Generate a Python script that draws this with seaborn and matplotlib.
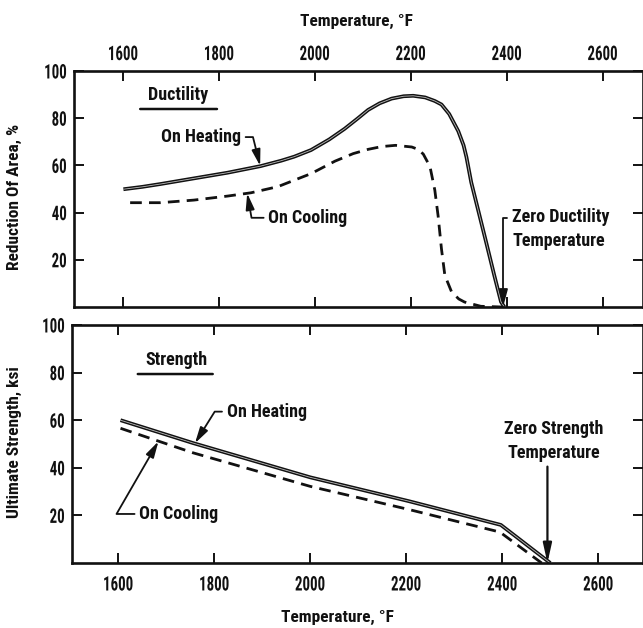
import numpy as np
import pandas as pd
import matplotlib
matplotlib.use("Agg")
import matplotlib.pyplot as plt
from matplotlib import font_manager as fm
from matplotlib.patheffects import AbstractPathEffect
from matplotlib.transforms import Affine2D
import seaborn as sns

# ---------------- data ----------------
temp_ticks = [1600, 1800, 2000, 2200, 2400, 2600]
value_ticks = [20, 40, 60, 80, 100]

duct_heat_T = [1601, 1640, 1678, 1748, 1818, 1887, 1930, 1957, 1992, 2030,
               2062, 2090, 2111, 2135, 2160, 2185, 2205, 2230, 2250, 2264,
               2280, 2299, 2310, 2316, 2326, 2340, 2357, 2374, 2388, 2395]
duct_heat = [49.9, 50.9, 52.1, 54.5, 56.9, 59.7, 62.0, 63.7, 66.5, 71.0,
             75.5, 80.0, 83.5, 86.3, 88.3, 89.3, 89.5, 88.8, 87.3, 85.8,
             81.8, 74.5, 68.5, 63.5, 52.8, 41.4, 27.5, 13.4, 2.2, 0.0]

duct_cool_T = [1615, 1678, 1748, 1818, 1867, 1923, 1973, 1992, 2042, 2080,
               2111, 2140, 2168, 2202, 2215, 2226, 2240, 2250, 2257, 2264,
               2271, 2285, 2300, 2312, 2346, 2390]
duct_cool = [44.2, 44.2, 45.3, 47.0, 48.4, 51.0, 55.0, 56.5, 61.8, 65.0,
             66.8, 68.0, 68.5, 67.8, 66.8, 64.8, 59.5, 49.6, 38.5, 24.5,
             13.4, 6.4, 3.4, 2.1, 0.3, 0.0]

str_heat_T = [1605, 1756, 2000, 2205, 2397, 2500]
str_heat = [60.0, 50.4, 36.0, 26.0, 16.0, 0.0]

str_cool_T = [1605, 1756, 2000, 2205, 2395, 2482]
str_cool = [56.6, 46.3, 32.2, 22.5, 13.0, 0.0]

duct_heat_df = pd.DataFrame({"T": duct_heat_T, "v": duct_heat})
duct_cool_df = pd.DataFrame({"T": duct_cool_T, "v": duct_cool})
str_heat_df = pd.DataFrame({"T": str_heat_T, "v": str_heat})
str_cool_df = pd.DataFrame({"T": str_cool_T, "v": str_cool})

# ---------------- style ----------------
sns.set_theme(style="ticks")

# pick a narrow bold face if one is installed
fonts = fm.fontManager.ttflist
narrow_family = None
narrow_stretch = "normal"
for fam in ["Liberation Sans Narrow", "DejaVu Sans Condensed",
            "Roboto Condensed", "Open Sans Condensed"]:
    if any(f.name == fam for f in fonts):
        narrow_family = fam
        break
if narrow_family is None:
    for f in fonts:
        if f.name == "DejaVu Sans" and f.stretch in ("condensed", "semi-condensed"):
            narrow_family = "DejaVu Sans"
            narrow_stretch = "condensed"
            break
if narrow_family is None:
    narrow_family = "Roboto"

plt.rcParams["font.family"] = [narrow_family, "DejaVu Sans"]
plt.rcParams["font.stretch"] = narrow_stretch
plt.rcParams["font.weight"] = "bold"
plt.rcParams["axes.labelweight"] = "bold"

INK = "#111111"
FS_TICK = 14.5
FS_TXT = 13.0
FS_LAB = 12.5


class Squeeze(AbstractPathEffect):
    """Draw text narrower (condensed look) while keeping it a text artist."""

    def __init__(self, sx=0.75, anchor="center"):
        super().__init__()
        self.sx = sx
        self.anchor = anchor

    def draw_path(self, renderer, gc, tpath, affine, rgbFace=None):
        ext = tpath.get_extents()
        if self.anchor == "left":
            px = ext.x0
        elif self.anchor == "right":
            px = ext.x1
        else:
            px = 0.5 * (ext.x0 + ext.x1)
        t = Affine2D().translate(-px, 0).scale(self.sx, 1).translate(px, 0) + affine
        renderer.draw_path(gc, tpath, t, rgbFace)


fig = plt.figure(figsize=(6.43, 6.28), dpi=100)
ax1 = fig.add_axes([74 / 643, 1 - 307 / 628, 569 / 643, 236 / 628])
ax2 = fig.add_axes([72 / 643, 1 - 563 / 628, 571 / 643, 238 / 628])


def style_axes(ax, xlim, labeltop):
    ax.set_xlim(*xlim)
    ax.set_ylim(0, 100)
    ax.set_xticks(temp_ticks)
    ax.set_yticks(value_ticks)
    ax.set_xticklabels([str(t) for t in temp_ticks])
    ax.set_yticklabels([str(v) for v in value_ticks])
    for s in ax.spines.values():
        s.set_linewidth(1.9)
        s.set_color(INK)
        s.set_visible(True)
    ax.tick_params(axis="both", direction="in", length=7.5, width=1.4,
                   color=INK, labelcolor=INK, labelsize=FS_TICK)
    ax.tick_params(axis="x", top=True, bottom=True,
                   labeltop=labeltop, labelbottom=not labeltop,
                   pad=5 if labeltop else 9)
    ax.tick_params(axis="y", left=True, right=True, labelleft=True,
                   labelright=False, pad=5)
    for tick in ax.xaxis.get_major_ticks():
        for lab in (tick.label1, tick.label2):
            lab.set_fontweight("bold")
            lab.set_path_effects([Squeeze(0.74, "center")])
    for tick in ax.yaxis.get_major_ticks():
        for lab in (tick.label1, tick.label2):
            lab.set_fontweight("bold")
            lab.set_path_effects([Squeeze(0.74, "right")])
    ax.set_facecolor("white")


def hollow_line(ax, df):
    sns.lineplot(data=df, x="T", y="v", ax=ax, color=INK, linewidth=2.7,
                 estimator=None, sort=False, solid_capstyle="butt")
    sns.lineplot(data=df, x="T", y="v", ax=ax, color="#bdbdbd", linewidth=0.6,
                 estimator=None, sort=False, solid_capstyle="butt")


def dashed_line(ax, df):
    sns.lineplot(data=df, x="T", y="v", ax=ax, color=INK, linewidth=2.0,
                 estimator=None, sort=False, linestyle=(0, (4.2, 2.6)))


def leader(ax, text, xy, xytext, angleB, relpos, ha="left", va="center",
           **kw):
    ax.annotate(text, xy=xy, xytext=xytext, textcoords="data",
                ha=ha, va=va, fontsize=FS_TXT, fontweight="bold", color=INK,
                arrowprops=dict(arrowstyle="-|>,head_length=0.75,head_width=0.2",
                                color=INK, lw=1.3, shrinkA=1, shrinkB=0,
                                relpos=relpos,
                                connectionstyle=f"angle,angleA=0,angleB={angleB},rad=0"),
                **kw)


def underline(ax, x0, x1, y):
    ax.annotate("", xy=(x1, y), xytext=(x0, y),
                arrowprops=dict(arrowstyle="-", color=INK, lw=1.8,
                                shrinkA=0, shrinkB=0))


# ---------------- top panel: ductility ----------------
hollow_line(ax1, duct_heat_df)
dashed_line(ax1, duct_cool_df)
style_axes(ax1, (1498, 2684), labeltop=True)
ax1.set_xlabel("Temperature, °F", fontsize=FS_LAB, fontweight="bold", color=INK)
ax1.xaxis.set_label_position("top")
ax1.xaxis.set_label_coords(0.497, 1.21)
ax1.xaxis.label.set_va("center")
ax1.set_ylabel("Reduction Of Area, %", fontsize=FS_LAB, fontweight="bold",
               color=INK)
ax1.yaxis.set_label_coords(-0.104, 0.466)
ax1.yaxis.label.set_va("center")

ax1.text(1715, 89.8, "Ductility", ha="center", va="center", fontsize=FS_TXT,
         fontweight="bold", color=INK)
underline(ax1, 1636, 1796, 83.9)

leader(ax1, "On Heating", xy=(1886, 59.8), xytext=(1846, 72.0),
       angleB=104, relpos=(1, 0.5), ha="right")
leader(ax1, "On Cooling", xy=(1859, 48.2), xytext=(1903, 37.8),
       angleB=100, relpos=(0, 0.5), ha="left")
leader(ax1, "Zero Ductility\nTemperature", xy=(2393, 0.4), xytext=(2411, 33.0),
       angleB=90, relpos=(0, 0.76), ha="left", multialignment="left",
       linespacing=1.4)

# ---------------- bottom panel: strength ----------------
hollow_line(ax2, str_heat_df)
dashed_line(ax2, str_cool_df)
style_axes(ax2, (1504, 2693), labeltop=False)
ax2.set_xlabel("Temperature, °F", fontsize=FS_LAB, fontweight="bold", color=INK)
ax2.xaxis.set_label_coords(0.464, -0.231)
ax2.xaxis.label.set_va("center")
ax2.set_ylabel("Ultimate Strength, ksi", fontsize=FS_LAB, fontweight="bold",
               color=INK)
ax2.yaxis.set_label_coords(-0.1, 0.508)
ax2.yaxis.label.set_va("center")

ax2.text(1721, 85.3, "Strength", ha="center", va="center", fontsize=FS_TXT,
         fontweight="bold", color=INK)
underline(ax2, 1641, 1797, 79.4)

leader(ax2, "On Heating", xy=(1760, 50.3), xytext=(1826, 63.6),
       angleB=58, relpos=(0, 0.5), ha="left")
leader(ax2, "On Cooling", xy=(1684, 51.1), xytext=(1644, 20.6),
       angleB=60, relpos=(0, 0.5), ha="left")
ax2.text(2508, 51.3, "Zero Strength\nTemperature", ha="center", va="center",
         multialignment="center", fontsize=FS_TXT, fontweight="bold",
         color=INK, linespacing=1.45)
ax2.annotate("", xy=(2494, 0.0), xytext=(2494, 40.5),
             arrowprops=dict(arrowstyle="-|>,head_length=0.9,head_width=0.2",
                             color=INK, lw=1.6, shrinkA=0, shrinkB=0,
                             mutation_scale=FS_TXT))

fig.savefig("out.png", dpi=100, facecolor="white")
